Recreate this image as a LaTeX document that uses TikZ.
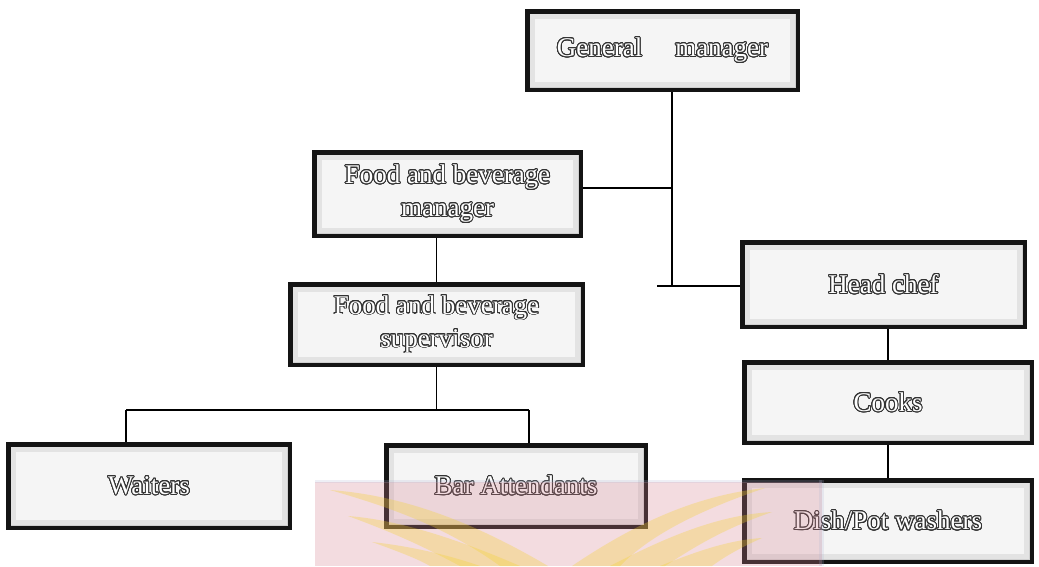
\documentclass[tikz,border=0pt]{standalone}
\usepackage{fontspec}
\setmainfont{Liberation Serif}
\usepackage{contour}
\contourlength{0.95pt}
\contournumber{24}
\usetikzlibrary{calc}

\definecolor{boxedge}{RGB}{20,20,20}
\definecolor{wmpink}{RGB}{212,128,142}
\definecolor{wmgold}{RGB}{245,210,40}
\definecolor{wmblue}{RGB}{170,178,210}

\newcommand{\olabel}[1]{\contour{black!80}{#1}}

\tikzset{
  orgbox/.style={
    draw=boxedge, line width=4.5pt, fill=gray!38,
    text=white, align=center,
    font=\fontsize{27}{33}\selectfont,
    path picture={
      \fill[gray!22] ($(path picture bounding box.south west)+(3,-3)$)
        rectangle ($(path picture bounding box.north east)+(-3,3)$);
      \fill[gray!8] ($(path picture bounding box.south west)+(8,-8)$)
        rectangle ($(path picture bounding box.north east)+(-8,8)$);
    }
  },
  link/.style={draw=black, line width=1.6pt}
}

\begin{document}
\begin{tikzpicture}[x=1pt,y=-1pt]
  \useasboundingbox[fill=white] (0,0) rectangle (1039,566);

  % boxes
  \node[orgbox, minimum width=270.5pt, minimum height=78.5pt] (gm) at (662.5,50.5)
    {\olabel{General}\hspace*{33pt}\olabel{manager}};
  \node[orgbox, minimum width=266.5pt, minimum height=83.5pt] (fbm) at (447.5,194)
    {\olabel{Food and beverage}\\\olabel{manager}};
  \node[orgbox, minimum width=292.5pt, minimum height=80.5pt] (sup) at (436.5,324.5)
    {\olabel{Food and beverage}\\\olabel{supervisor}};
  \node[orgbox, minimum width=281.5pt, minimum height=83.5pt] (wait) at (149,486)
    {\olabel{Waiters}};
  \node[orgbox, minimum width=259.5pt, minimum height=81.5pt] (bar) at (516,486)
    {\olabel{Bar Attendants}};
  \node[orgbox, minimum width=282.5pt, minimum height=84.5pt] (chef) at (883.5,284.5)
    {\olabel{Head chef}};
  \node[orgbox, minimum width=287.5pt, minimum height=80.5pt] (cook) at (888,402.5)
    {\olabel{Cooks}};
  \node[orgbox, minimum width=287.5pt, minimum height=81.5pt] (dish) at (888,521)
    {\olabel{Dish/Pot washers}};

  % junction points
  \coordinate (j1) at (672,188);
  \coordinate (j2) at (672,286);
  \coordinate (hl) at (657,286);
  \coordinate (j3) at (436.5,410);
  \coordinate (j4) at (126,410);
  \coordinate (j5) at (529,410);

  % connectors
  \draw[link] (gm.south -| j1) -- (j2);
  \draw[link] (fbm.east |- j1) -- (j1);
  \draw[link] (hl) -- (chef.west |- hl);
  \draw[link] (fbm.south -| sup.north) -- (sup.north);
  \draw[link] (sup.south) -- (j3);
  \draw[link] (j4) -- (j5);
  \draw[link] (j4) -- (wait.north -| j4);
  \draw[link] (j5) -- (bar.north -| j5);
  \draw[link] (chef.south -| cook.north) -- (cook.north);
  \draw[link] (cook.south) -- (dish.north);

  % faint emblem band along the lower edge
  \begin{scope}[opacity=0.27]
    \fill[wmpink] (315,482) rectangle (822,566);
  \end{scope}
  \begin{scope}[opacity=0.2]
    \fill[wmblue] (315,480) rectangle (822,483);
    \fill[wmblue] (819,480) rectangle (824,566);
  \end{scope}
  \begin{scope}[opacity=0.3, fill=wmgold]
    % left wing
    \fill (548,566) .. controls (470,520) and (400,495) .. (330,490)
          .. controls (400,510) and (450,530) .. (500,566) -- cycle;
    \fill (520,566) .. controls (460,540) and (400,520) .. (348,516)
          .. controls (400,535) and (430,550) .. (460,566) -- cycle;
    \fill (480,566) .. controls (440,552) and (400,545) .. (372,542)
          .. controls (400,552) and (420,560) .. (430,566) -- cycle;
    % right wing
    \fill (572,566) .. controls (640,520) and (700,495) .. (765,488)
          .. controls (700,510) and (650,535) .. (620,566) -- cycle;
    \fill (610,566) .. controls (670,535) and (720,515) .. (772,512)
          .. controls (720,530) and (690,550) .. (665,566) -- cycle;
    \fill (660,566) .. controls (700,550) and (730,540) .. (762,538)
          .. controls (735,550) and (720,560) .. (712,566) -- cycle;
  \end{scope}
\end{tikzpicture}
\end{document}
